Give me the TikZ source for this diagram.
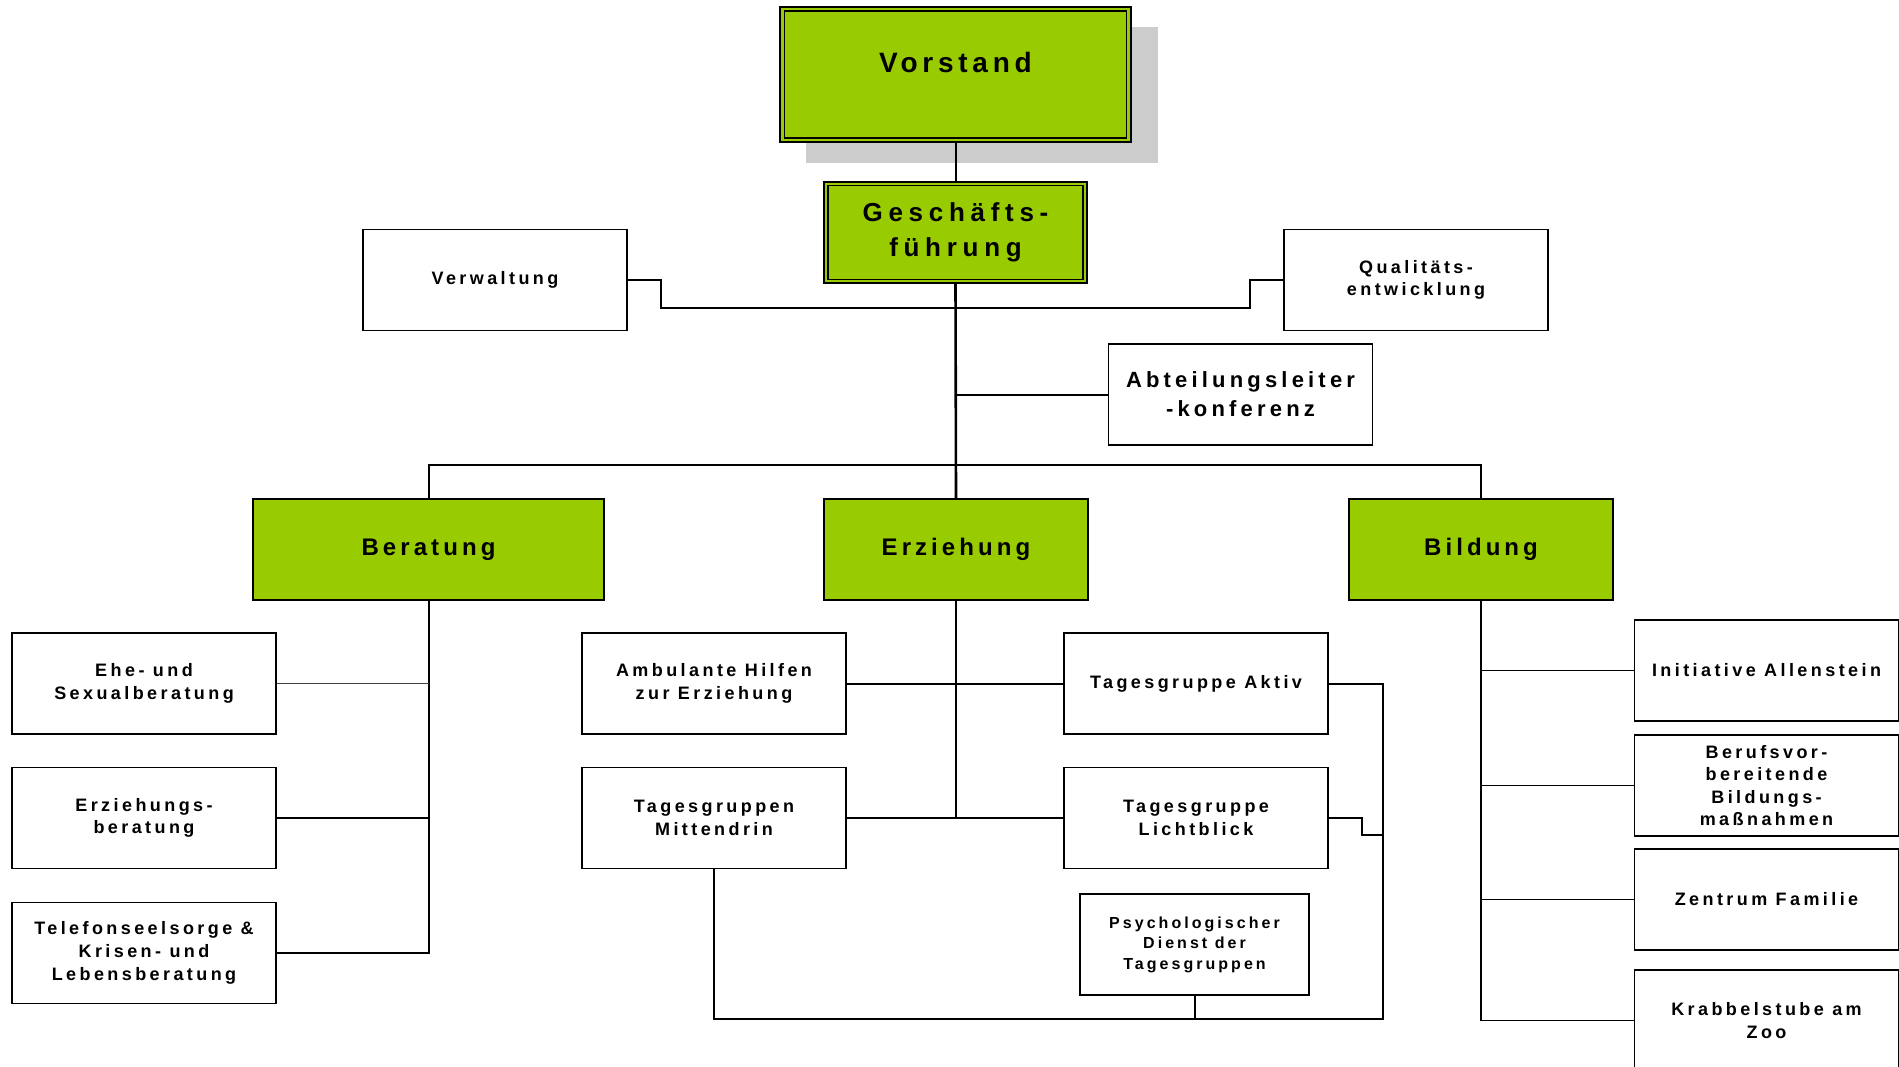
\documentclass[tikz,border=0pt]{standalone}
\usepackage{fontspec}
\setmainfont{Liberation Sans}
\newfontfamily\lsf[LetterSpace=19]{Liberation Sans}
\newfontfamily\lsfb[LetterSpace=17]{Liberation Sans}
\newfontfamily\lsfg[LetterSpace=22]{Liberation Sans}
\definecolor{lgreen}{RGB}{153,204,0}
\definecolor{shadowgray}{RGB}{204,204,204}
\begin{document}
\begin{tikzpicture}[x=1pt,y=-1pt,
  box/.style={draw=black, line width=1.7pt, fill=white, minimum width=264pt, minimum height=101pt,
    inner sep=0pt, align=center, font=\lsf\bfseries\fontsize{18}{22.7}\selectfont},
  gbox/.style={box, fill=lgreen, font=\lsfb\bfseries\fontsize{24}{28}\selectfont},
  conn/.style={line width=2pt, draw=black},
  thinconn/.style={line width=1.2pt, draw=black!75},
  bconn/.style={line width=1.5pt, draw=black}]
\useasboundingbox (0,0) rectangle (1899,1067);
\fill[white] (0,0) rectangle (1899,1067);

% shadow of Vorstand
\fill[shadowgray] (806,27) rectangle (1158,163);

% top nodes
\node[gbox, minimum width=351pt, minimum height=135pt] (vorstand) at (955.5,74.5) {};
\draw[line width=1.5pt] ([shift={(5.5pt,-5pt)}]vorstand.north west) rectangle ([shift={(-5.5pt,5pt)}]vorstand.south east);
\node[font=\lsfb\bfseries\fontsize{28}{32}\selectfont, inner sep=0pt] (vtext) at (955.5,62) {Vorstand};

\node[gbox, minimum width=263pt, minimum height=101pt, font=\lsfg\bfseries\fontsize{26}{35}\selectfont] (gf) at (955.5,232.5) {Geschäfts-\\führung};
\draw[line width=1.5pt] ([shift={(5pt,-4.5pt)}]gf.north west) rectangle ([shift={(-5pt,4.5pt)}]gf.south east);

\node[box] (verw) at (495,280) {Verwaltung};
\node[box] (qual) at (1416,280) {Qualitäts-\\entwicklung};
\node[box, font=\lsf\bfseries\fontsize{22}{29}\selectfont] (abt) at (1240.5,394.5) {Abteilungsleiter\\-konferenz};

% departments
\node[gbox, minimum width=351pt] (ber) at (428.5,549.5) {Beratung};
\node[gbox] (erz) at (956,549.5) {Erziehung};
\node[gbox] (bil) at (1481,549.5) {Bildung};

% Beratung children
\node[box] (ehe) at (144,683.5) {Ehe- und\\Sexualberatung};
\node[box] (ezb) at (144,818) {Erziehungs-\\beratung};
\node[box] (tel) at (144,953) {Telefonseelsorge \&\\Krisen- und\\Lebensberatung};

% Erziehung children
\node[box] (amb) at (714,683.5) {Ambulante Hilfen\\zur Erziehung};
\node[box] (akt) at (1196,683.5) {Tagesgruppe Aktiv};
\node[box] (mit) at (714,818) {Tagesgruppen\\Mittendrin};
\node[box] (lic) at (1196,818) {Tagesgruppe\\Lichtblick};
\node[box, minimum width=229pt, font=\lsf\bfseries\fontsize{16}{20.5}\selectfont] (psy) at (1194.5,944.5) {Psychologischer\\Dienst der\\Tagesgruppen};

% Bildung children
\node[box] (ini) at (1766.5,670.5) {Initiative Allenstein};
\node[box, font=\lsf\bfseries\fontsize{18}{22.3}\selectfont] (bvb) at (1766.5,785.5) {Berufsvor-\\bereitende\\Bildungs-\\maßnahmen};
\node[box] (zen) at (1766.5,899.5) {Zentrum Familie};
\node[box] (kra) at (1766.5,1020.5) {Krabbelstube am\\Zoo};

% coordinates
\coordinate (j) at (955.5,308);
\coordinate (bar) at (955.5,465);
\coordinate (bus) at (1383,1019);

% connectors top
\draw[conn] (vorstand.south) -- (gf.north);
\draw[conn, line width=2.6pt] (gf.south) -- (erz.north);
\draw[conn] (verw.east) -- ++(33,0) -- ++(0,28) -- (j);
\draw[conn] (qual.west) -- ++(-33,0) -- ++(0,28) -- (j);
\draw[conn] (abt.west) -- (abt.west -| gf.south);
\draw[conn] (ber.north) -- (ber.north |- bar) -- (bil.north |- bar) -- (bil.north);

% Beratung
\draw[conn] (ber.south) -- (ber.south |- tel.east) -- (tel.east);
\draw[thinconn] (ehe.east) -- (ehe.east -| ber.south);
\draw[conn] (ezb.east) -- (ezb.east -| ber.south);

% Erziehung
\draw[conn] (erz.south) -- (erz.south |- mit.east);
\draw[conn] (amb.east) -- (akt.west);
\draw[conn] (mit.east) -- (lic.west);
\draw[conn] (mit.south) |- (bus) |- (akt.east);
\draw[conn] (psy.south) -- (psy.south |- bus);
\draw[conn] (lic.east) -- ++(33,0) -- ++(0,17) -- ++(22,0);

% Bildung
\draw[conn, line width=2.4pt] (bil.south) -- ++(0,70);
\draw[bconn] (bil.south) |- (kra.west);
\draw[bconn] (ini.west) -- (ini.west -| bil.south);
\draw[bconn] (bvb.west) -- (bvb.west -| bil.south);
\draw[bconn] (zen.west) -- (zen.west -| bil.south);
\end{tikzpicture}
\end{document}
